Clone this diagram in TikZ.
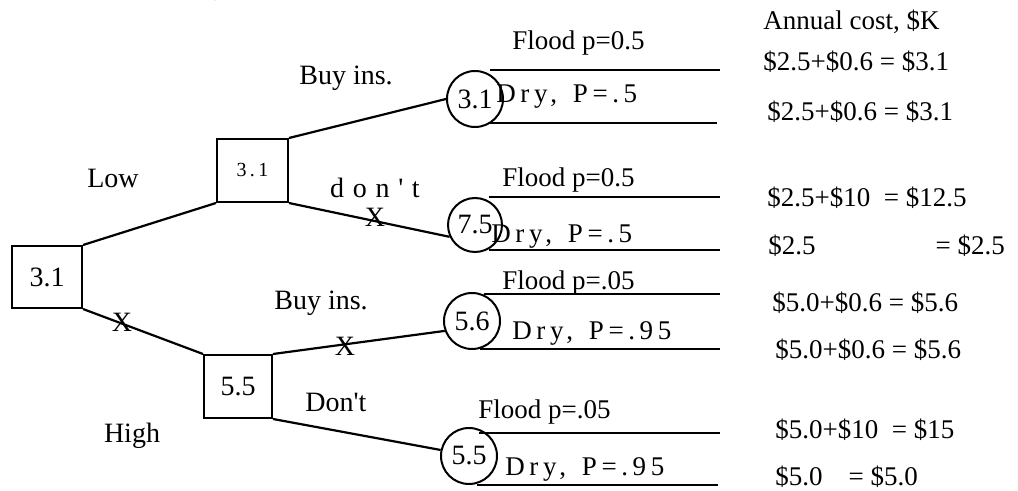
\documentclass[tikz,border=0pt]{standalone}
\usepackage{fontspec}
\setmainfont{Liberation Serif}
\newfontfamily\spacedfont[LetterSpace=17]{Liberation Serif}
\newfontfamily\widefont[LetterSpace=6]{Liberation Serif}
\begin{document}
\begin{tikzpicture}[x=0.5pt,y=-0.5pt,
  font=\fontsize{13.5}{16}\selectfont,
  dbox/.style={draw, rectangle, inner sep=0pt, line width=1pt},
  cnode/.style={draw, circle, inner sep=0pt, minimum size=28pt, line width=1pt, font=\fontsize{14}{16}\selectfont},
  conn/.style={line width=1.1pt},
  lbl/.style={inner sep=0pt, anchor=west},
  tag/.style={inner sep=0pt, font=\fontsize{14}{16}\selectfont},
  spaced/.style={font=\fontsize{13.5}{16}\spacedfont}]
\useasboundingbox (0,0) rectangle (1018,491);
\node[tag] (topclip) at (232,-11) {\$0K};
% decision boxes
\node[dbox, minimum width=35pt, minimum height=31pt, font=\fontsize{14}{16}\selectfont] (root) at (47,277) {3.1};
\node[dbox, minimum width=35.5pt, minimum height=31.5pt, font=\fontsize{10}{12}\spacedfont] (b2) at (252.5,170.5) {3.1};
\node[dbox, minimum width=34pt, minimum height=31.5pt, font=\fontsize{14}{16}\selectfont] (b3) at (238,386.5) {5.5};
% chance nodes
\node[cnode] (c1) at (475,99) {3.1};
\node[cnode, minimum size=27pt] (c2) at (475,225) {7.5};
\node[cnode] (c3) at (472,321) {5.6};
\node[cnode] (c4) at (469,456) {5.5};
% branches
\draw[conn] (root.north east) -- (b2.south west);
\draw[conn] (root.south east) -- (b3.north west);
\draw[conn] (b2.north east) -- (c1.west);
\draw[conn] (b2.south east) -- (c2.205);
\draw[conn] (b3.north east) -- (c3.200);
\draw[conn] (b3.south east) -- (c4.168);
% outcome lines
\coordinate (f1) at (720,70);  \coordinate (d1) at (717,123);
\coordinate (f2) at (720,197); \coordinate (d2) at (720,250);
\coordinate (f3) at (720,294); \coordinate (d3) at (720,349);
\coordinate (f4) at (720,433); \coordinate (d4) at (718,485);
\draw[conn] (c1.60 |- f1) -- (f1);
\draw[conn] (c1.-58 |- d1) -- (d1);
\draw[conn] (c2.60 |- f2) -- (f2);
\draw[conn] (c2.-60 |- d2) -- (d2);
\draw[conn] (c3.65 |- f3) -- (f3);
\draw[conn] (c3.-75 |- d3) -- (d3);
\draw[conn] (c4.70 |- f4) -- (f4);
\draw[conn] (c4.-75 |- d4) -- (d4);
% branch labels
\node[tag] (low) at (113,178) {Low};
\node[tag] (high) at (132,436) {High};
\node[tag] (x1) at (122,322) {X};
\node[tag] (buy1) at (346,78) {Buy ins.};
\node[tag, font=\fontsize{14}{16}\widefont] (dont1) at (375,188) {d o n \textquotesingle\ t};
\node[tag] (x2) at (375,217) {X};
\node[tag] (buy2) at (321,303) {Buy ins.};
\node[tag] (x3) at (345,346) {X};
\node[tag] (dont2) at (336,402) {Don\textquotesingle t};
% outcome labels
\node[lbl] (fl1) at (512,43) {Flood p=0.5};
\node[lbl, spaced] (dr1) at (496,97) {Dry,\, P=.5};
\node[lbl] (fl2) at (502,180) {Flood p=0.5};
\node[lbl, spaced] (dr2) at (491,237) {Dry,\, P=.5};
\node[lbl] (fl3) at (502,283) {Flood p=.05};
\node[lbl, spaced] (dr3) at (512,333) {Dry,\, P=.95};
\node[lbl] (fl4) at (478,412) {Flood p=.05};
\node[lbl, spaced] (dr4) at (505,469) {Dry,\, P=.95};
% costs
\node[lbl] (hdr) at (763,22) {Annual cost, \$K};
\node[lbl] (k1) at (763,62) {\$2.5+\$0.6 = \$3.1};
\node[lbl] (k2) at (767,112) {\$2.5+\$0.6 = \$3.1};
\node[lbl] (k3) at (767,198) {\$2.5+\$10\ \ = \$12.5};
\node[lbl] (k4) at (768,246) {\$2.5\hspace{60pt}= \$2.5};
\node[lbl] (k5) at (772,303) {\$5.0+\$0.6 = \$5.6};
\node[lbl] (k6) at (775,350) {\$5.0+\$0.6 = \$5.6};
\node[lbl] (k7) at (775,430) {\$5.0+\$10\ \ = \$15};
\node[lbl] (k8) at (775,477) {\$5.0\hspace{13pt}= \$5.0};
\end{tikzpicture}
\end{document}
